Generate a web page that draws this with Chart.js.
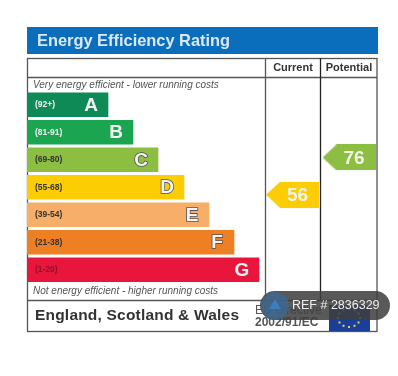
<!DOCTYPE html>
<html>
<head>
<meta charset="utf-8">
<title>Energy Efficiency Rating</title>
<script src="https://cdn.jsdelivr.net/npm/chart.js@4"></script>
<style>
  html, body { margin: 0; padding: 0; background: #fff; }
  canvas { display: block; filter: blur(0.5px); }
</style>
</head>
<body>
<canvas id="epc" width="398" height="376"></canvas>
<script>
const bands = ['A', 'B', 'C', 'D', 'E', 'F', 'G'];
const ranges = ['(92+)', '(81-91)', '(69-80)', '(55-68)', '(39-54)', '(21-38)', '(1-20)'];
const barLengths = [81, 106, 131, 157, 182, 207, 232];
const barColors = ['#0e8a57', '#1ba551', '#8cbe42', '#fdcd03', '#f6ae68', '#ee7f22', '#e8163c'];
const rangeColors = ['#f2f2f2', '#f2f2f2', '#333333', '#333333', '#333333', '#333333', '#8f1030'];

const columns = ['Current', 'Potential'];
const ratings = [56, 76];
const ratingColors = ['#fdcd03', '#8cbe42'];
const ratingColumnX = [265.5, 322];

const FONT = '"Liberation Sans", Arial, sans-serif';

function makeTag(color) {
  const c = document.createElement('canvas');
  c.width = 53;
  c.height = 26;
  const g = c.getContext('2d');
  g.fillStyle = color;
  g.beginPath();
  g.moveTo(0, 13);
  g.lineTo(14, 0);
  g.lineTo(53, 0);
  g.lineTo(53, 26);
  g.lineTo(14, 26);
  g.closePath();
  g.fill();
  return c;
}

const epcFrame = {
  id: 'epcFrame',

  beforeDraw(chart) {
    const { ctx } = chart;
    ctx.save();
    ctx.fillStyle = '#ffffff';
    ctx.fillRect(0, 0, chart.width, chart.height);

    ctx.fillStyle = '#0a6ebd';
    ctx.fillRect(27, 27, 351, 27);

    ctx.strokeStyle = '#555555';
    ctx.lineWidth = 1.3;
    ctx.strokeRect(27.5, 58.5, 349.5, 273);
    ctx.beginPath();
    ctx.moveTo(27, 77.5);
    ctx.lineTo(377, 77.5);
    ctx.moveTo(27, 300.5);
    ctx.lineTo(377, 300.5);
    ctx.moveTo(265.5, 58);
    ctx.lineTo(265.5, 300);
    ctx.stroke();
    ctx.strokeStyle = '#222222';
    ctx.beginPath();
    ctx.moveTo(320.5, 58);
    ctx.lineTo(320.5, 300);
    ctx.stroke();
    ctx.restore();
  },

  afterDatasetsDraw(chart) {
    const { ctx } = chart;
    const bars = chart.getDatasetMeta(0).data;
    const tags = chart.getDatasetMeta(1).data;
    ctx.save();
    ctx.textBaseline = 'middle';

    ctx.fillStyle = '#dbe9f6';
    ctx.font = 'bold 16.4px ' + FONT;
    ctx.fillText('Energy Efficiency Rating', 37, 41);

    ctx.fillStyle = '#333333';
    ctx.font = 'bold 11px ' + FONT;
    ctx.textAlign = 'center';
    ctx.fillText(columns[0], 293, 68);
    ctx.fillText(columns[1], 349, 68);
    ctx.textAlign = 'left';

    ctx.fillStyle = '#555555';
    ctx.font = 'italic 10px ' + FONT;
    ctx.fillText('Very energy efficient - lower running costs', 33, 85);
    ctx.fillText('Not energy efficient - higher running costs', 33, 291);

    bars.forEach((bar, i) => {
      ctx.textAlign = 'left';
      ctx.fillStyle = rangeColors[i];
      ctx.font = 'bold 8.5px ' + FONT;
      ctx.fillText(ranges[i], 35, bar.y);

      ctx.textAlign = 'center';
      ctx.font = 'bold 19px ' + FONT;
      ctx.lineWidth = 1.6;
      ctx.strokeStyle = i < 2 || i === 6 ? 'rgba(255,255,255,0)' : '#555555';
      ctx.strokeText(bands[i], bar.x - 17, bar.y + 1);
      ctx.fillStyle = '#f4f4f4';
      ctx.fillText(bands[i], bar.x - 17, bar.y + 1);
    });

    ctx.fillStyle = '#f3f3e6';
    ctx.font = 'bold 19px ' + FONT;
    tags.forEach((tag, i) => {
      ctx.fillText(String(ratings[i]), tag.x + 5, tag.y + 1);
    });

    ctx.textAlign = 'left';
    ctx.fillStyle = '#333333';
    ctx.font = 'bold 15.5px ' + FONT;
    ctx.letterSpacing = '0.2px';
    ctx.fillText('England, Scotland & Wales', 35, 316);
    ctx.letterSpacing = '0px';

    ctx.fillStyle = '#555555';
    ctx.font = '12px ' + FONT;
    ctx.fillText('EU Directive', 255, 311);
    ctx.font = 'bold 12px ' + FONT;
    ctx.fillText('2002/91/EC', 255, 323);

    ctx.fillStyle = '#1b3f98';
    ctx.fillRect(329, 305, 41, 26);
    ctx.fillStyle = '#e8d44a';
    for (let a = 0; a < 12; a++) {
      const t = a * Math.PI / 6;
      ctx.fillRect(349 + Math.cos(t) * 11 - 1, 318 + Math.sin(t) * 9 - 1, 2, 2);
    }

    // listing watermark sits on top of everything
    ctx.fillStyle = 'rgba(62,62,62,0.86)';
    ctx.beginPath();
    ctx.roundRect(260, 291, 130, 29, 14.5);
    ctx.fill();
    ctx.fillStyle = 'rgba(60,105,150,0.75)';
    ctx.beginPath();
    ctx.arc(275, 306, 14, 0, Math.PI * 2);
    ctx.fill();
    ctx.fillStyle = '#3a7fc0';
    ctx.beginPath();
    ctx.moveTo(275, 299);
    ctx.lineTo(281, 309);
    ctx.lineTo(269, 309);
    ctx.closePath();
    ctx.fill();
    ctx.fillStyle = '#eeeeee';
    ctx.font = '12.5px ' + FONT;
    ctx.fillText('REF # 2836329', 292, 305.5);
    ctx.restore();
  }
};

new Chart(document.getElementById('epc'), {
  type: 'bar',
  plugins: [ epcFrame ],
  data: {
    labels: bands,
    datasets: [
      {
        data: barLengths,
        backgroundColor: barColors,
        barThickness: 24,
        grouped: false,
        xAxisID: 'x',
        yAxisID: 'y'
      },
      {
        type: 'scatter',
        data: ratings.map((r, i) => ({ x: ratingColumnX[i], y: r })),
        pointStyle: ratingColors.map(makeTag),
        xAxisID: 'x',
        yAxisID: 'rating'
      }
    ]
  },
  options: {
    indexAxis: 'y',
    responsive: false,
    animation: false,
    layout: { padding: { left: 27, right: 21, top: 91, bottom: 92.5 } },
    plugins: { legend: { display: false }, tooltip: { enabled: false } },
    scales: {
      x: { type: 'linear', min: 0, max: 350, display: false },
      y: { type: 'category', offset: true, display: false },
      rating: { type: 'linear', min: 13, max: 107, display: false, position: 'right' }
    }
  }
});
</script>
</body>
</html>
